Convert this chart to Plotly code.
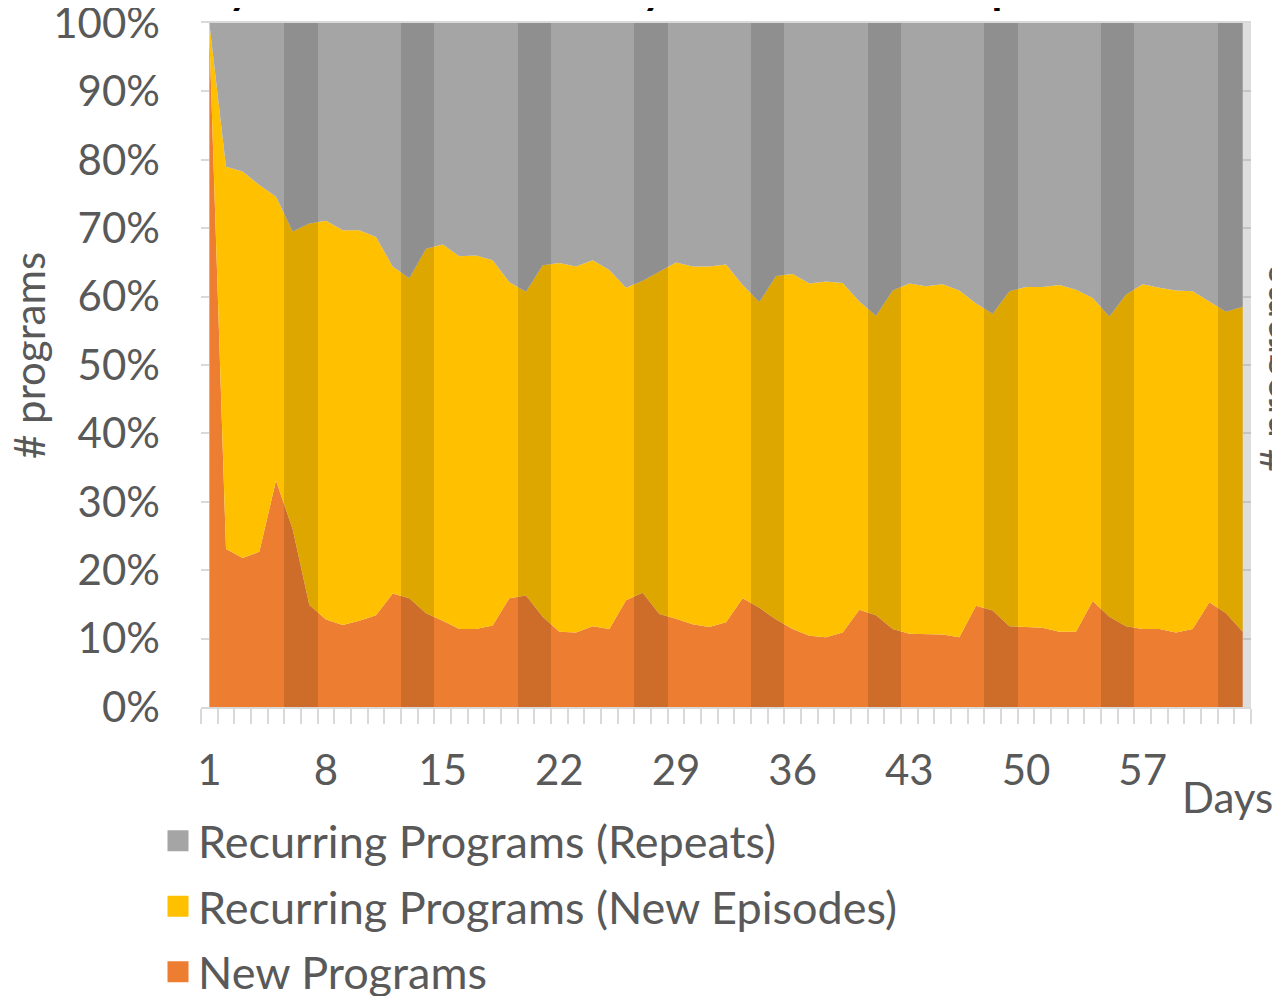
import plotly.graph_objects as go

# Days of the observation window
days = list(range(1, 64))

# Share of programs per day (%)
new_programs = [98.5, 23.1, 21.8, 22.7, 33.1, 26.0, 14.9, 12.8, 12.0, 12.6,
                13.4, 16.6, 15.9, 13.7, 12.6, 11.4, 11.4, 11.9, 15.9, 16.3,
                13.2, 11.0, 10.9, 11.8, 11.4, 15.6, 16.7, 13.6, 12.9, 12.1,
                11.7, 12.4, 15.9, 14.5, 12.8, 11.4, 10.4, 10.2, 10.9, 14.2,
                13.4, 11.4, 10.7, 10.7, 10.6, 10.2, 14.8, 14.1, 11.8, 11.7,
                11.6, 11.0, 11.0, 15.5, 13.2, 11.8, 11.4, 11.4, 10.9, 11.4,
                15.3, 13.7, 11.0]
new_episodes = [1.5, 55.9, 56.5, 53.6, 41.5, 43.5, 55.8, 58.3, 57.7, 57.1,
                55.3, 47.8, 46.8, 53.3, 55.0, 54.5, 54.6, 53.4, 46.2, 44.4,
                51.4, 53.9, 53.5, 53.5, 52.5, 45.7, 45.6, 50.1, 52.1, 52.3,
                52.7, 52.3, 45.8, 44.7, 50.2, 51.9, 51.5, 52.0, 51.1, 45.1,
                43.8, 49.5, 51.2, 50.8, 51.2, 50.7, 44.2, 43.4, 49.0, 49.7,
                49.8, 50.7, 50.0, 44.3, 43.9, 48.5, 50.4, 49.9, 50.0, 49.4,
                44.0, 44.1, 47.5]
repeats = [0.0, 21.0, 21.7, 23.7, 25.4, 30.5, 29.3, 28.9, 30.3, 30.3,
           31.3, 35.6, 37.3, 33.0, 32.4, 34.1, 34.0, 34.7, 37.9, 39.3,
           35.4, 35.1, 35.6, 34.7, 36.1, 38.7, 37.7, 36.3, 35.0, 35.6,
           35.6, 35.3, 38.3, 40.8, 37.0, 36.7, 38.1, 37.8, 38.0, 40.7,
           42.8, 39.1, 38.1, 38.5, 38.2, 39.1, 41.0, 42.5, 39.2, 38.6,
           38.6, 38.3, 39.0, 40.2, 42.9, 39.7, 38.2, 38.7, 39.1, 39.2,
           40.7, 42.2, 41.5]

# Weekend days, shaded with a band on the secondary axis
weekend_days = [6, 7, 13, 14, 20, 21, 27, 28, 34, 35, 41, 42, 48, 49, 55, 56, 62, 63]
weekend_flag = [1] * len(weekend_days)
weekend_width = [1] * (len(weekend_days) - 1) + [0.5]

tick_days = [1, 8, 15, 22, 29, 36, 43, 50, 57]
pct_ticks = list(range(0, 101, 10))

series = [
    ("New Programs", new_programs, "#ED7D31"),
    ("Recurring Programs (New Episodes)", new_episodes, "#FFC000"),
    ("Recurring Programs (Repeats)", repeats, "#A5A5A5"),
]

FONT = "Lato"
GREY = "#595959"

fig = go.Figure()

for name, vals, color in series:
    fig.add_trace(go.Scatter(
        x=days, y=vals, name=name,
        mode="lines", line=dict(width=0, color=color),
        fillcolor=color, stackgroup="one", groupnorm="percent",
        showlegend=False, hoverinfo="x+y+name",
    ))

# weekend shading drawn above the areas
fig.add_trace(go.Bar(
    x=weekend_days, y=weekend_flag, yaxis="y2",
    width=weekend_width, offset=-0.5,
    marker=dict(color="rgba(0,0,0,0.13)", line=dict(width=0)),
    showlegend=False, hoverinfo="skip",
))

# legend entries (top to bottom as in the original)
for i, (name, vals, color) in enumerate(reversed(series)):
    fig.add_trace(go.Scatter(
        x=[None], y=[None], mode="markers", name=name, legendgroup=str(i),
        marker=dict(symbol="square", size=16, color=color,
                    line=dict(color=color, width=5)),
    ))

fig.update_layout(
    width=1280, height=996,
    margin=dict(l=193, r=37, t=15, b=297, autoexpand=False),
    paper_bgcolor="white", plot_bgcolor="white",
    font=dict(family=FONT, color=GREY, size=42),
    bargap=0,
    showlegend=True,
    legend=dict(
        xref="container", yref="container",
        x=150 / 1280, y=1 - 797 / 996, xanchor="left", yanchor="top",
        font=dict(family=FONT, size=45, color=GREY),
        itemsizing="trace", traceorder="grouped", tracegroupgap=4,
        bgcolor="rgba(0,0,0,0)",
    ),
    xaxis=dict(
        range=[0.5, 63.5], tickmode="array", tickvals=tick_days,
        ticktext=[str(d) for d in tick_days], tickangle=0,
        ticks="", ticklabelstandoff=26, automargin=False,
        ticklabeloverflow="allow",
        showgrid=False, zeroline=False,
        showline=True, linecolor="#D9D9D9", linewidth=1.5, mirror=True,
        minor=dict(tickmode="array", tickvals=[d - 0.5 for d in days] + [63.5],
                   ticks="outside", ticklen=15, tickwidth=1.5,
                   tickcolor="#D9D9D9", showgrid=False),
        tickfont=dict(family=FONT, size=42, color=GREY),
    ),
    yaxis=dict(
        range=[0, 100], tickmode="array", tickvals=pct_ticks,
        ticktext=[f"{v}%" for v in pct_ticks], automargin=False,
        ticks="inside", ticklen=8, tickwidth=1.5, tickcolor="#D9D9D9",
        ticklabelstandoff=40, ticklabeloverflow="allow",
        showgrid=False, zeroline=False, showline=False,
        tickfont=dict(family=FONT, size=42, color=GREY),
    ),
    yaxis2=dict(
        overlaying="y", side="right", range=[0, 1], automargin=False,
        tickmode="array", tickvals=[v / 100 for v in pct_ticks],
        showticklabels=False, ticks="inside", ticklen=8, tickwidth=1.5,
        tickcolor="#C4C4C4", showgrid=False, zeroline=False, showline=False,
    ),
    shapes=[dict(type="rect", xref="x", yref="paper", x0=63, x1=63.5,
                 y0=0, y1=1, fillcolor="#DEDEDE", line=dict(width=0),
                 layer="below")],
    annotations=[
        dict(text="<b>Daily Broadcast Counts by Title Status \u2013 Repeats vs. New</b>",
             xref="paper", yref="paper", x=-0.0496, y=1.011,
             xanchor="left", yanchor="bottom", showarrow=False,
             font=dict(family=FONT, size=44, color="black")),
        dict(text="# programs", textangle=-90, xref="paper", yref="paper",
             x=(2 - 201) / 1050, y=(707 - 356) / 684,
             xanchor="left", yanchor="middle", showarrow=False,
             font=dict(family=FONT, size=42, color=GREY)),
        dict(text="# programs", textangle=-90, xref="paper", yref="paper",
             x=(1240 - 193) / 1050, y=(707 - 370) / 684,
             xanchor="left", yanchor="middle", showarrow=False,
             font=dict(family=FONT, size=42, color=GREY)),
        dict(text="Days", xref="paper", yref="paper",
             x=(1275 - 201) / 1050, y=(707 - 797) / 684,
             xanchor="right", yanchor="middle", showarrow=False,
             font=dict(family=FONT, size=42, color=GREY)),
    ],
)

fig.write_html("out.html")
